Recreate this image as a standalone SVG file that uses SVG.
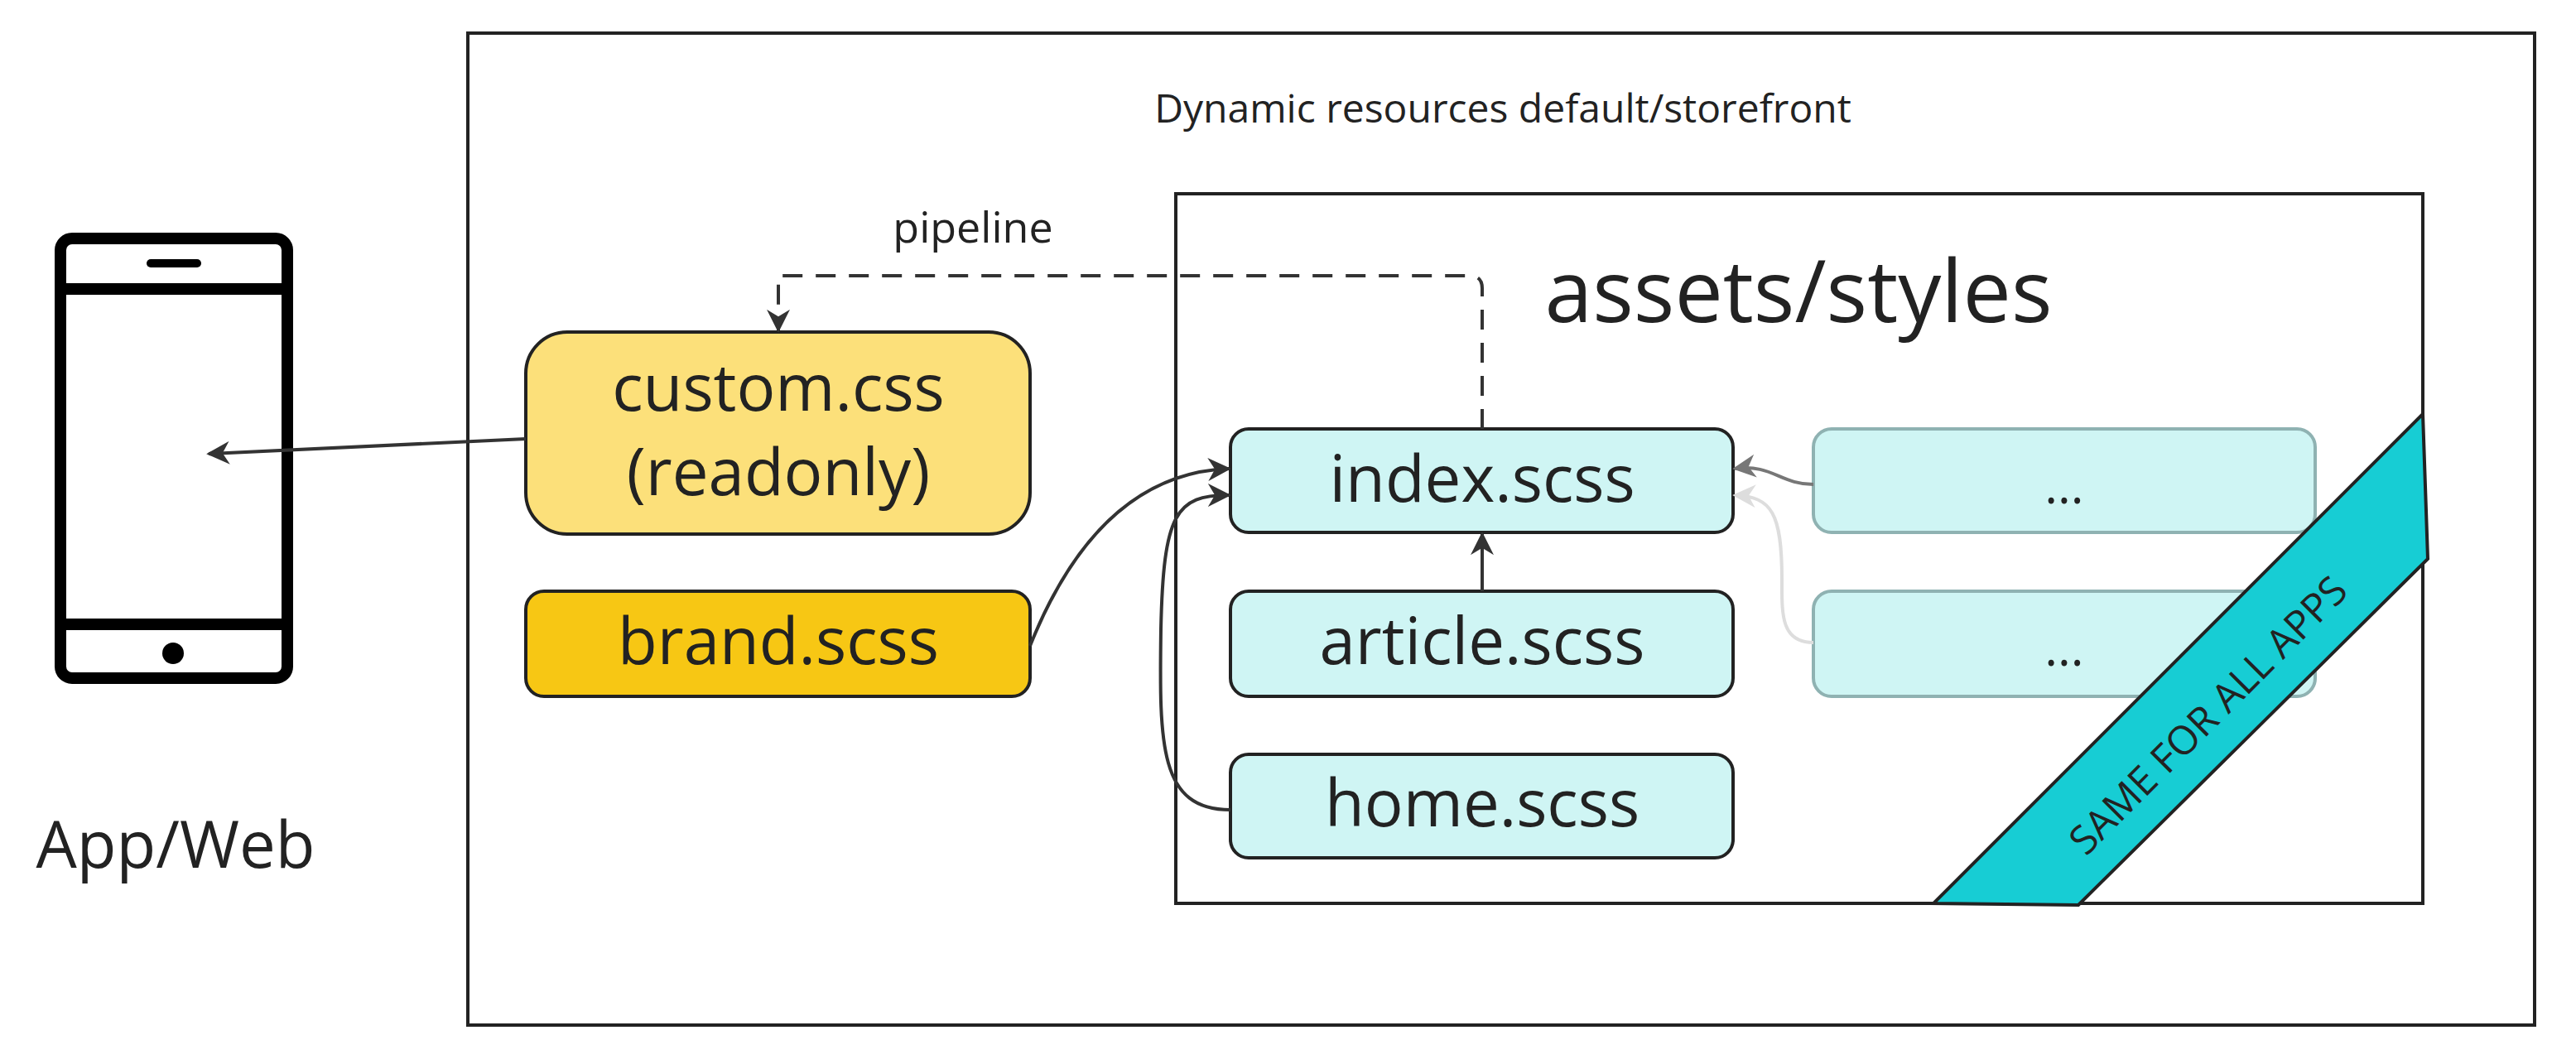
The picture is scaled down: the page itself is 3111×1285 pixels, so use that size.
<svg xmlns="http://www.w3.org/2000/svg" width="3111" height="1285" viewBox="0 0 3111 1285">
<style>
text{font-family:"Open Sans","Noto Sans",sans-serif;fill:#222;text-anchor:middle}
.box{stroke:#222;stroke-width:4}
.node{stroke:#222;stroke-width:4}
.ln{fill:none;stroke:#333;stroke-width:4}
</style>
<defs>
<marker id="ah" viewBox="0 0 10 10" refX="9" refY="5" markerWidth="28" markerHeight="28" orient="auto" markerUnits="userSpaceOnUse">
<path d="M0,0 L10,5 L0,10 L3,5 Z" fill="#333"/>
</marker>
<marker id="ahg" viewBox="0 0 10 10" refX="9" refY="5" markerWidth="28" markerHeight="28" orient="auto" markerUnits="userSpaceOnUse">
<path d="M0,0 L10,5 L0,10 L3,5 Z" fill="#777"/>
</marker>
<marker id="ahl" viewBox="0 0 10 10" refX="9" refY="5" markerWidth="28" markerHeight="28" orient="auto" markerUnits="userSpaceOnUse">
<path d="M0,0 L10,5 L0,10 L3,5 Z" fill="#ddd"/>
</marker>
</defs>
<rect width="3111" height="1285" fill="#fff"/>
<g id="outer"><rect x="565" y="40" width="2496" height="1198" fill="none" class="box"/>
<text x="1815" y="148" font-size="48">Dynamic resources default/storefront</text></g>
<g id="assets"><rect x="1420" y="234" width="1506" height="857" fill="none" class="box"/>
<text x="2172" y="389" font-size="104">assets/styles</text></g>
<g id="phone" fill="none" stroke="#000" stroke-width="14">
<rect x="73" y="288" width="274" height="531" rx="14"/>
<line x1="73" y1="349" x2="347" y2="349"/><line x1="73" y1="754" x2="347" y2="754"/>
<line x1="182" y1="318" x2="238" y2="318" stroke-width="10" stroke-linecap="round"/>
<circle cx="209" cy="789" r="13" fill="#000" stroke="none"/>
</g>
<g id="appweb"><text x="212" y="1048" font-size="78" fill="#333">App/Web</text></g>
<g id="custom"><rect x="635" y="401" width="609" height="244" rx="50" fill="#FCE07A" class="node"/>
<text x="940" y="496" font-size="78">custom.css</text><text x="940" y="598" font-size="78">(readonly)</text></g>
<g id="brand"><rect x="635" y="714" width="609" height="127" rx="22" fill="#F7C714" class="node"/>
<text x="940" y="802" font-size="78">brand.scss</text></g>
<g id="index"><rect x="1486" y="518" width="607" height="125" rx="22" fill="#CFF5F4" class="node"/>
<text x="1790" y="606" font-size="78">index.scss</text></g>
<g id="article"><rect x="1486" y="714" width="607" height="127" rx="22" fill="#CFF5F4" class="node"/>
<text x="1790" y="802" font-size="78">article.scss</text></g>
<g id="home"><rect x="1486" y="911" width="607" height="125" rx="22" fill="#CFF5F4" class="node"/>
<text x="1790" y="998" font-size="78">home.scss</text></g>
<g id="more1"><rect x="2190" y="518" width="606" height="125" rx="22" fill="#CFF5F4" stroke="#8FB2B2" stroke-width="4"/>
<text x="2493" y="608" font-size="60">...</text></g>
<g id="more2"><rect x="2190" y="714" width="606" height="127" rx="22" fill="#CFF5F4" stroke="#8FB2B2" stroke-width="4"/>
<text x="2493" y="804" font-size="60">...</text></g>
<g id="connectors">
<path d="M1790,518 V348 Q1790,333 1775,333 H940 V399" class="ln" stroke-width="5" stroke-dasharray="24,16" marker-end="url(#ah)"/>
<text x="1175" y="293" font-size="52">pipeline</text>
<line x1="635" y1="530" x2="252" y2="548" class="ln" stroke-width="5" marker-end="url(#ah)"/>
<path d="M1244,780 C1300,640 1380,570 1484,566" class="ln" stroke-width="3" marker-end="url(#ah)"/>
<path d="M1486,978 C1400,978 1400,900 1402,760 C1405,620 1420,598 1484,598" class="ln" stroke-width="3" marker-end="url(#ah)"/>
<line x1="1790" y1="714" x2="1790" y2="645" class="ln" stroke-width="3" marker-end="url(#ah)"/>
<path d="M2190,585 C2150,585 2140,560 2095,566" fill="none" stroke="#777" stroke-width="4" marker-end="url(#ahg)"/>
<path d="M2190,776 C2150,776 2152,740 2152,700 C2152,620 2140,600 2095,598" fill="none" stroke="#ddd" stroke-width="4" marker-end="url(#ahl)"/>
</g>
<g id="ribbon"><polygon points="2926,500 2932,675 2510,1093 2335,1091" fill="#17CDD4" stroke="#222" stroke-width="4"/>
<text x="2668" y="880" font-size="48" transform="rotate(-45 2668 865)">SAME FOR ALL APPS</text></g>
</svg>
